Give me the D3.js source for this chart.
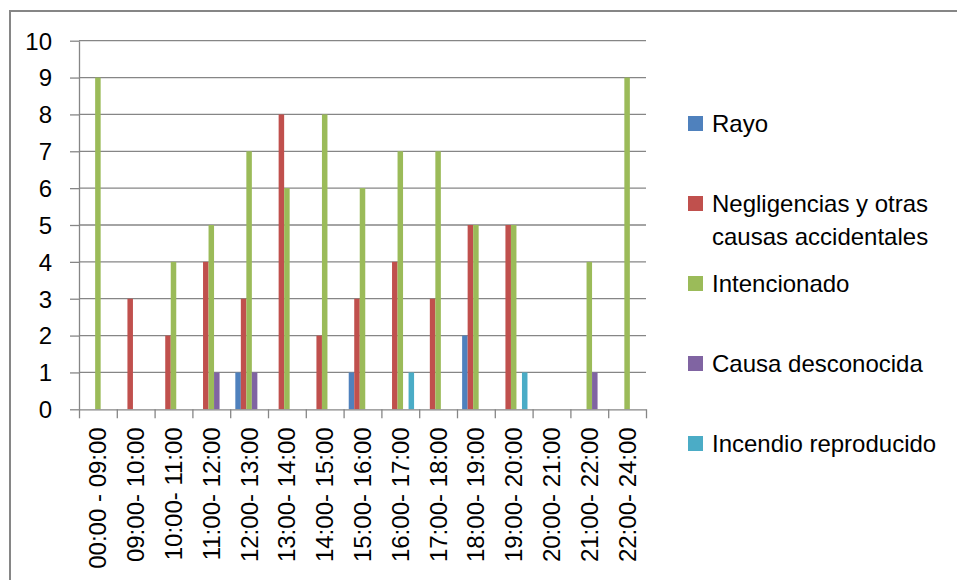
<!DOCTYPE html>
<html>
<head>
<meta charset="utf-8">
<script src="https://cdn.jsdelivr.net/npm/d3@7"></script>
<style>
  body { margin: 0; background: #fff; }
  svg { display: block; font-family: "Liberation Sans", Arial, sans-serif; }
  .axis path, .axis line { stroke: #868686; }
</style>
</head>
<body>
<div id="chart"></div>
<script>
// data
var horas = ['00:00 - 09:00', '09:00- 10:00', '10:00- 11:00', '11:00- 12:00', '12:00- 13:00',
	'13:00- 14:00', '14:00- 15:00', '15:00- 16:00', '16:00- 17:00', '17:00- 18:00',
	'18:00- 19:00', '19:00- 20:00', '20:00- 21:00', '21:00- 22:00', '22:00- 24:00'];
var causas = ['Rayo', 'Negligencias y otras causas accidentales', 'Intencionado', 'Causa desconocida', 'Incendio reproducido'];
var rayo = [0, 0, 0, 0, 1, 0, 0, 1, 0, 0, 2, 0, 0, 0, 0];
var negligencias = [0, 3, 2, 4, 3, 8, 2, 3, 4, 3, 5, 5, 0, 0, 0];
var intencionado = [9, 0, 4, 5, 7, 6, 8, 6, 7, 7, 5, 5, 0, 4, 9];
var desconocida = [0, 0, 0, 1, 1, 0, 0, 0, 0, 0, 0, 0, 0, 1, 0];
var reproducido = [0, 0, 0, 0, 0, 0, 0, 0, 1, 0, 0, 1, 0, 0, 0];
var colores = ['#4F81BD', '#C0504D', '#9BBB59', '#8064A2', '#4BACC6'];
var leyendaLineas = [['Rayo'], ['Negligencias y otras', 'causas accidentales'], ['Intencionado'], ['Causa desconocida'], ['Incendio reproducido']];

var series = [rayo, negligencias, intencionado, desconocida, reproducido];

var W = 957, H = 580;
var margin = { top: 40.7, left: 79, right: 311, bottom: 170.7 };
var width = W - margin.left - margin.right,
	height = H - margin.top - margin.bottom;

var svg = d3.select('#chart').append('svg')
	.attr('width', W)
	.attr('height', H);

// chart border (only top and left are visible in the picture)
svg.append('rect')
	.attr('x', 10).attr('y', 11)
	.attr('width', 1200).attr('height', 1200)
	.attr('fill', 'none')
	.attr('stroke', '#868686')
	.attr('stroke-width', 2);

var g = svg.append('g')
	.attr('transform', 'translate(' + margin.left + ',' + margin.top + ')');

var x0 = d3.scaleBand().domain(horas).range([0, width]).padding(0);
var x1 = d3.scaleBand().domain(d3.range(causas.length))
	.range([0, x0.bandwidth()]).paddingInner(0).paddingOuter(0.93);
var y = d3.scaleLinear().domain([0, 10]).range([height, 0]);
var xb = d3.scaleLinear().domain([0, horas.length]).range([0, width]);

// gridlines
g.append('g')
	.selectAll('line')
	.data(y.ticks(10).filter(function (d) { return d > 0; }))
	.enter().append('line')
	.attr('x1', 0).attr('x2', width)
	.attr('y1', function (d) { return y(d); })
	.attr('y2', function (d) { return y(d); })
	.attr('stroke', '#868686')
	.attr('stroke-width', 1.3);

// bars
var grupos = g.selectAll('.grupo')
	.data(horas)
	.enter().append('g')
	.attr('class', 'grupo')
	.attr('transform', function (d) { return 'translate(' + x0(d) + ',0)'; });

grupos.selectAll('rect')
	.data(function (d, i) {
		return series.map(function (s, k) { return { k: k, v: s[i] }; });
	})
	.enter().append('rect')
	.attr('x', function (d) { return x1(d.k); })
	.attr('width', x1.bandwidth())
	.attr('y', function (d) { return y(d.v); })
	.attr('height', function (d) { return height - y(d.v); })
	.attr('fill', function (d) { return colores[d.k]; });

// y axis
var yAxis = g.append('g')
	.attr('class', 'axis')
	.call(d3.axisLeft(y).ticks(10).tickSizeInner(9).tickSizeOuter(0).tickPadding(18));
yAxis.selectAll('line, path').attr('stroke-width', 1.3);
yAxis.selectAll('text').attr('font-size', 24).attr('fill', '#000').attr('dy', '0.35em');
yAxis.attr('font-family', null);

// x axis ticks at category boundaries
var xTicks = g.append('g')
	.attr('class', 'axis')
	.attr('transform', 'translate(0,' + height + ')')
	.call(d3.axisBottom(xb).tickValues(d3.range(horas.length + 1)).tickFormat('').tickSizeInner(9).tickSizeOuter(0));
xTicks.selectAll('line, path').attr('stroke-width', 1.3);

// x labels
var xLab = g.append('g')
	.attr('transform', 'translate(0,' + height + ')')
	.call(d3.axisBottom(x0).tickSize(0));
xLab.select('.domain').remove();
xLab.attr('font-family', null);
xLab.selectAll('text')
	.attr('font-size', 24)
	.attr('fill', '#000')
	.attr('transform', 'rotate(-90)')
	.attr('x', -18)
	.attr('y', 0)
	.attr('dy', '0.35em')
	.attr('text-anchor', 'end');

// legend
var leg = svg.append('g').attr('transform', 'translate(688,124)');
var item = leg.selectAll('g')
	.data(causas)
	.enter().append('g')
	.attr('transform', function (d, i) { return 'translate(0,' + i * 80 + ')'; });

item.append('rect')
	.attr('x', 0).attr('y', -8)
	.attr('width', 15).attr('height', 15)
	.attr('fill', function (d, i) { return colores[i]; });

item.append('text')
	.attr('x', 24)
	.attr('font-size', 24)
	.attr('fill', '#000')
	.selectAll('tspan')
	.data(function (d, i) { return leyendaLineas[i]; })
	.enter().append('tspan')
	.attr('x', 24)
	.attr('y', function (d, j) { return j * 33; })
	.attr('dy', '0.35em')
	.text(function (d) { return d; });
</script>
</body>
</html>
